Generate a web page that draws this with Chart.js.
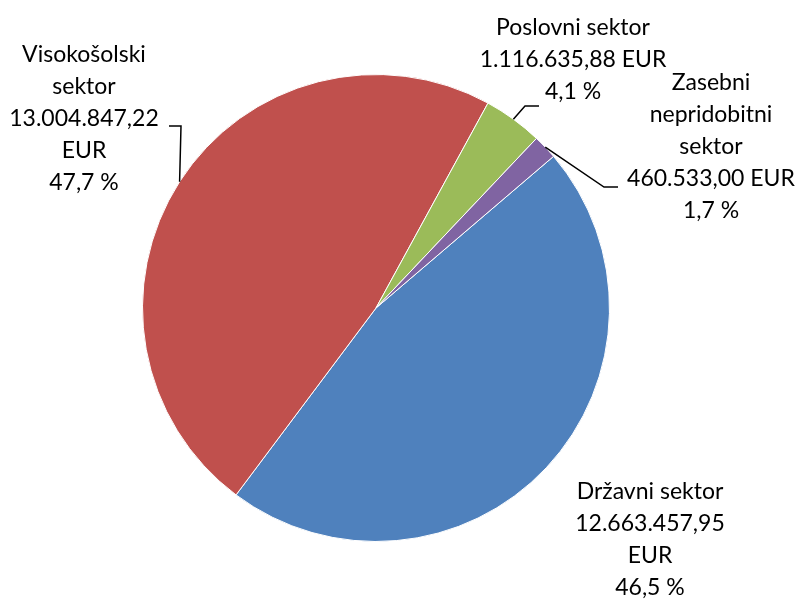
<!DOCTYPE html>
<html>
<head>
<meta charset="utf-8">
<script src="https://cdn.jsdelivr.net/npm/chart.js@4/dist/chart.umd.min.js"></script>
<style>
  html, body { margin: 0; padding: 0; background: #fff; }
  canvas { display: block; }
</style>
</head>
<body>
<canvas id="pie" width="802" height="601"></canvas>
<script>
// sectors and amounts (EUR)
const categories = ['Državni sektor', 'Visokošolski sektor', 'Poslovni sektor', 'Zasebni nepridobitni sektor'];
const amounts = [12663457.95, 13004847.22, 1116635.88, 460533.00];
const colors = ['#4F81BD', '#C0504D', '#9BBB59', '#8064A2'];

const FONT = '23px Lato';

// format like 13.004.847,22
const fmtEUR = v => v.toLocaleString('de-DE', { minimumFractionDigits: 2, maximumFractionDigits: 2 });
const fmtPct = v => v.toFixed(1).replace('.', ',') + ' %';

// simple word wrap by pixel width
function wrap(ctx, text, maxW) {
  const words = text.split(' ');
  const out = [];
  let cur = '';
  words.forEach(w => {
    const test = cur ? cur + ' ' + w : w;
    if (cur && ctx.measureText(test).width > maxW) {
      out.push(cur);
      cur = w;
    } else {
      cur = test;
    }
  });
  if (cur) out.push(cur);
  return out;
}

// outside labels with leader lines, Excel style
const outsideLabels = {
  id: 'outsideLabels',
  afterDatasetsDraw(chart, args, opts) {
    const ctx = chart.ctx;
    const meta = chart.getDatasetMeta(0);
    const total = amounts.reduce((a, b) => a + b, 0);
    ctx.save();
    ctx.font = FONT;
    ctx.fillStyle = '#000';
    ctx.textAlign = 'center';
    ctx.textBaseline = 'middle';
    meta.data.forEach((arc, i) => {
      const o = opts.items[i];
      const lines = []
        .concat(wrap(ctx, categories[i], o.maxW))
        .concat(wrap(ctx, fmtEUR(amounts[i]) + ' EUR', o.maxW))
        .concat([fmtPct(amounts[i] / total * 100)]);
      lines.forEach((t, k) => ctx.fillText(t, o.x, o.y + k * opts.lineH));

      if (o.elbow) {
        const mid = (arc.startAngle + arc.endAngle) / 2;
        const px = arc.x + Math.cos(mid) * arc.outerRadius;
        const py = arc.y + Math.sin(mid) * arc.outerRadius;
        ctx.beginPath();
        ctx.strokeStyle = '#000';
        ctx.lineWidth = 1.5;
        ctx.moveTo(px, py);
        ctx.lineTo(o.elbow[0], o.elbow[1]);
        ctx.lineTo(o.end[0], o.end[1]);
        ctx.stroke();
      }
    });
    ctx.restore();
  }
};

new Chart(document.getElementById('pie'), {
  type: 'pie',
  data: {
    labels: categories,
    datasets: [{
      data: amounts,
      backgroundColor: colors,
      borderColor: '#ffffff',
      borderWidth: 1
    }]
  },
  options: {
    responsive: false,
    animation: false,
    rotation: 49.5,
    layout: { padding: { left: 142, right: 192, top: 74, bottom: 59 } },
    plugins: {
      legend: { display: false },
      tooltip: { enabled: false },
      outsideLabels: {
        lineH: 32,
        items: [
          { x: 650, y: 492, maxW: 165 },
          { x: 84, y: 55, maxW: 165, elbow: [181, 126], end: [169, 126] },
          { x: 573, y: 28, maxW: 205, elbow: [525, 106], end: [539, 106] },
          { x: 711, y: 83, maxW: 180, elbow: [604, 187], end: [618, 187] }
        ]
      }
    }
  },
  plugins: [outsideLabels]
});
</script>
</body>
</html>
